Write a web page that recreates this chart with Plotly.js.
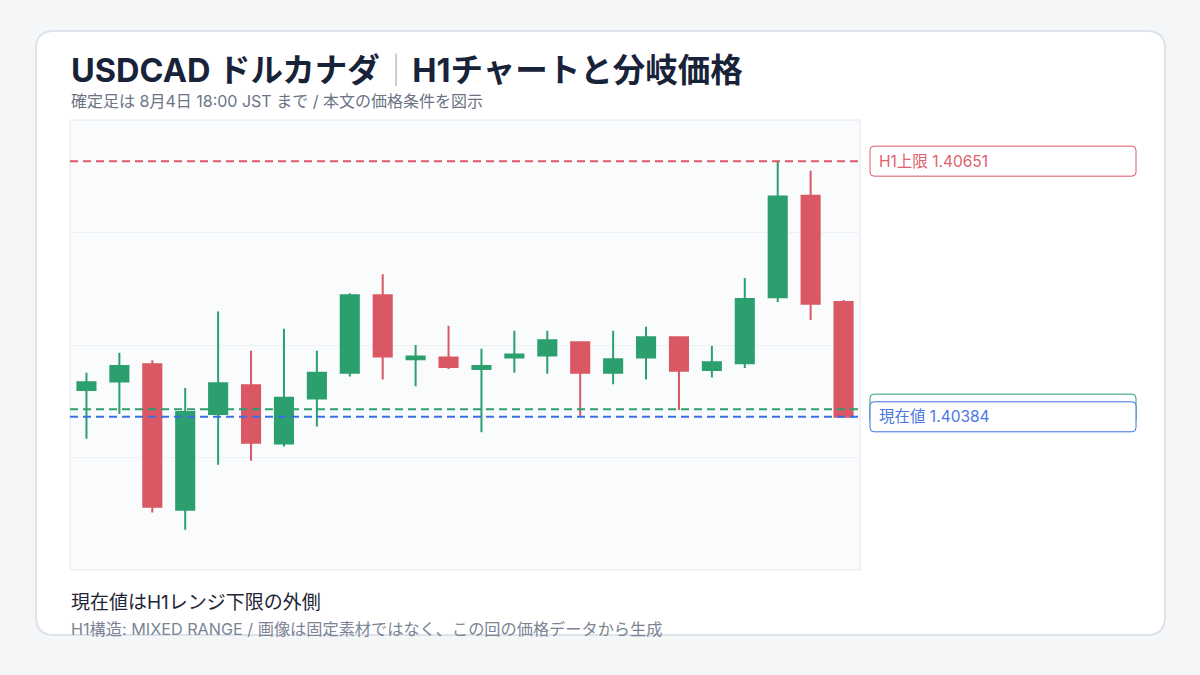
<!DOCTYPE html>
<html>
<head>
<meta charset="utf-8">
<script src="https://cdn.plot.ly/plotly-3.0.1.min.js"></script>
<style>
  html, body { margin: 0; padding: 0; background: #f5f6f8; }
  #chart { width: 1200px; height: 675px; }
</style>
</head>
<body>
<div id="chart"></div>
<script>
// USDCAD H1 candles
const openPx  = [1.40412, 1.40421, 1.40439, 1.40287, 1.40387, 1.40417, 1.40356, 1.40403,
                 1.40430, 1.40511, 1.40444, 1.40446, 1.40434, 1.40446, 1.40448, 1.40462,
                 1.40430, 1.40446, 1.40467, 1.40433, 1.40440, 1.40509, 1.40615, 1.40504]
const highPx  = [1.40430, 1.40451, 1.40443, 1.40414, 1.40494, 1.40453, 1.40476, 1.40453,
                 1.40513, 1.40533, 1.40459, 1.40479, 1.40455, 1.40474, 1.40474, 1.40463,
                 1.40474, 1.40478, 1.40468, 1.40458, 1.40529, 1.40651, 1.40641, 1.40506]
const lowPx   = [1.40361, 1.40387, 1.40284, 1.40266, 1.40334, 1.40338, 1.40353, 1.40374,
                 1.40426, 1.40423, 1.40416, 1.40434, 1.40368, 1.40430, 1.40429, 1.40385,
                 1.40418, 1.40423, 1.40391, 1.40425, 1.40435, 1.40504, 1.40485, 1.40383]
const closePx = [1.40420, 1.40437, 1.40290, 1.40389, 1.40419, 1.40357, 1.40404, 1.40430,
                 1.40511, 1.40447, 1.40447, 1.40436, 1.40437, 1.40449, 1.40464, 1.40430,
                 1.40444, 1.40467, 1.40432, 1.40441, 1.40507, 1.40614, 1.40502, 1.40384]

// reference levels (upper, lower, current); the lower label sits hidden under the current one
const levelNames  = ['H1上限', 'H1下限', '現在値']
const levelValues = [1.40651, 1.40392, 1.40384]
const levelColors = ['#dc5866', '#2e9e6e', '#3a6fe0']
const labelText   = ['#e0606e', '#2e9e6e', '#4a78e0']
const labelShown  = [true, false, true]

const titleText = 'USDCAD ドルカナダ<span style="color:#b5bcc8;font-weight:400">｜</span>H1チャートと分岐価格'
const subText   = '確定足は 8月4日 18:00 JST まで / 本文の価格条件を図示'
const noteText  = '現在値はH1レンジ下限の外側'
const noteSub   = 'H1構造: MIXED RANGE / 画像は固定素材ではなく、この回の価格データから生成'

const yRange = [1.40224, 1.40694]

const W = 1200, H = 675
const px = v => v / W
const py = v => 1 - v / H
const font = 'Inter, "Noto Sans CJK JP", sans-serif'

const idx = openPx.map((_, i) => i)

const candles = {
    type: 'candlestick',
    x: idx,
    open: openPx, high: highPx, low: lowPx, close: closePx,
    increasing: { line: { color: '#2c9f6e', width: 2 }, fillcolor: '#2c9f6e' },
    decreasing: { line: { color: '#da5764', width: 2 }, fillcolor: '#da5764' },
    whiskerwidth: 0,
    hoverinfo: 'skip',
    showlegend: false
}

// card with rounded corners, drawn in paper coords
function roundRect(x0, y0, x1, y1, r) {
    const rx = r / W, ry = r / H
    const L = px(x0), R = px(x1), T = py(y0), B = py(y1)
    return `M ${L + rx},${T} L ${R - rx},${T} Q ${R},${T} ${R},${T - ry} ` +
           `L ${R},${B + ry} Q ${R},${B} ${R - rx},${B} L ${L + rx},${B} ` +
           `Q ${L},${B} ${L},${B + ry} L ${L},${T - ry} Q ${L},${T} ${L + rx},${T} Z`
}

// label box path in pixels relative to its anchor
function pixBox(w, h, r) {
    const hh = h / 2
    return `M ${r},${-hh} L ${w - r},${-hh} Q ${w},${-hh} ${w},${-hh + r} ` +
           `L ${w},${hh - r} Q ${w},${hh} ${w - r},${hh} L ${r},${hh} ` +
           `Q 0,${hh} 0,${hh - r} L 0,${-hh + r} Q 0,${-hh} ${r},${-hh} Z`
}

const plotL = 70, plotR = 860, plotT = 120, plotB = 570

let shapes = [
    { type: 'path', xref: 'paper', yref: 'paper', layer: 'below',
      path: roundRect(36, 31, 1165, 635, 18),
      fillcolor: '#ffffff', line: { color: '#dde3ec', width: 2 } },
    { type: 'rect', xref: 'paper', yref: 'paper', layer: 'below',
      x0: px(plotL), x1: px(plotR), y0: py(plotB), y1: py(plotT),
      fillcolor: '#f9fbfd', line: { color: '#e3e8ef', width: 1 } }
]

const order = [0, 1, 2]
// dashed level lines, current drawn last so it sits on top
order.forEach(i => {
    shapes.push({
        type: 'line', xref: 'paper', yref: 'y', layer: 'above',
        x0: px(plotL), x1: px(plotR), y0: levelValues[i], y1: levelValues[i],
        line: { color: levelColors[i], width: 2, dash: '8px,5px' }
    })
})
// label boxes on the right
order.forEach(i => {
    shapes.push({
        type: 'path', xref: 'paper', yref: 'y', layer: 'above',
        xsizemode: 'pixel', ysizemode: 'pixel',
        xanchor: px(870), yanchor: levelValues[i],
        path: pixBox(266, 30, 4),
        fillcolor: '#ffffff', line: { color: levelColors[i], width: 1 }
    })
})

let annotations = [
    { text: titleText, xref: 'paper', yref: 'paper', x: px(69), y: py(71),
      xanchor: 'left', yanchor: 'middle', showarrow: false,
      font: { family: font, size: 32.5, color: '#18233a', weight: 700 } },
    { text: subText, xref: 'paper', yref: 'paper', x: px(69), y: py(101),
      xanchor: 'left', yanchor: 'middle', showarrow: false,
      font: { family: font, size: 16, color: '#6b7485' } },
    { text: noteText, xref: 'paper', yref: 'paper', x: px(69), y: py(602),
      xanchor: 'left', yanchor: 'middle', showarrow: false,
      font: { family: font, size: 19, color: '#1e2636' } },
    { text: noteSub, xref: 'paper', yref: 'paper', x: px(69), y: py(629),
      xanchor: 'left', yanchor: 'middle', showarrow: false,
      font: { family: font, size: 16.2, color: '#7b8494' } }
]

order.forEach(i => {
    if (!labelShown[i]) return
    annotations.push({
        text: `${levelNames[i]} ${levelValues[i].toFixed(5)}`,
        xref: 'paper', yref: 'y', x: px(877), y: levelValues[i],
        xanchor: 'left', yanchor: 'middle', align: 'left',
        showarrow: false,
        font: { family: font, size: 15.5, color: labelText[i] }
    })
})

const layout = {
    width: W, height: H,
    margin: { l: 0, r: 0, t: 0, b: 0 },
    paper_bgcolor: '#f5f6f8',
    plot_bgcolor: 'rgba(0,0,0,0)',
    boxgap: 0.45, boxgroupgap: 0,
    xaxis: {
        domain: [px(plotL), px(plotR)],
        range: [-0.5, idx.length - 0.5],
        showgrid: false, zeroline: false, showticklabels: false, ticks: '',
        rangeslider: { visible: false },
        fixedrange: true
    },
    yaxis: {
        domain: [py(plotB), py(plotT)],
        range: yRange,
        tick0: yRange[0], dtick: (yRange[1] - yRange[0]) / 4,
        showgrid: true, gridcolor: '#edf0f4', gridwidth: 1,
        zeroline: false, showticklabels: false, ticks: '',
        fixedrange: true
    },
    shapes: shapes,
    annotations: annotations,
    showlegend: false
}

Plotly.newPlot('chart', [candles], layout, { displayModeBar: false, staticPlot: true })
</script>
</body>
</html>
